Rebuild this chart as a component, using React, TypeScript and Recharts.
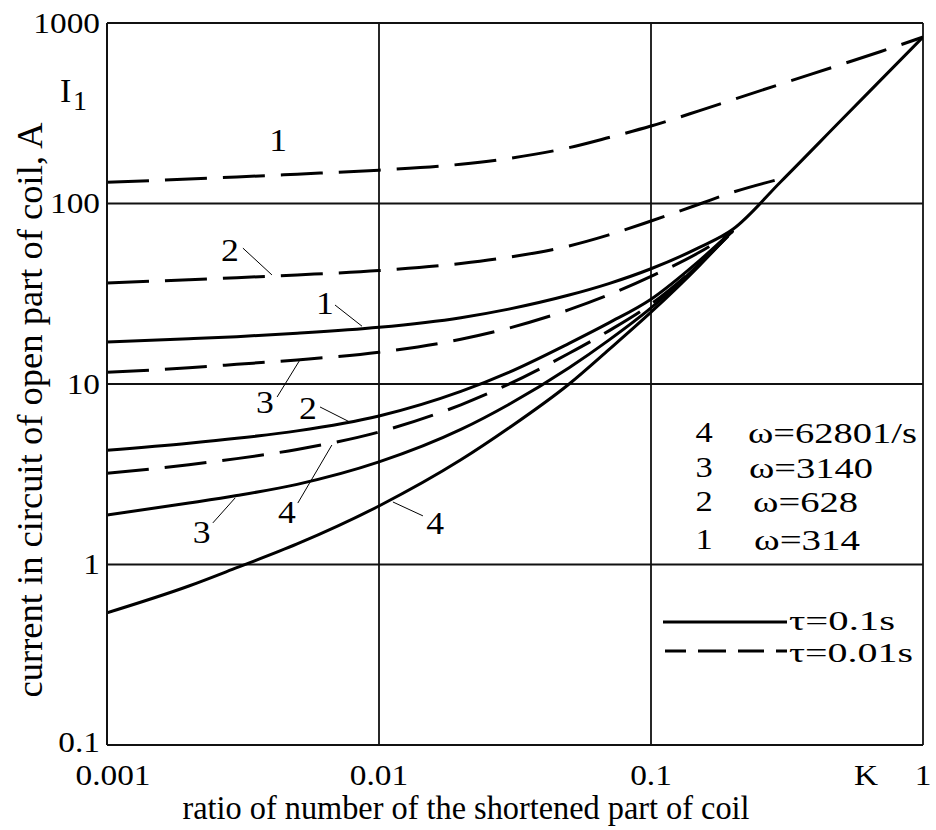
import React from 'react';
import { LineChart, Line, XAxis, YAxis, CartesianGrid, ReferenceLine, ReferenceDot } from 'recharts';

const FONT = "'Liberation Serif', 'Times New Roman', serif";

// K - ratio of number of the shortened part of coil
const kRatio = [0.001, 0.002, 0.003, 0.005, 0.01, 0.02, 0.03, 0.05, 0.07, 0.1, 0.15, 0.2, 0.3, 0.5, 0.7, 1];

// I1, A  (tau = 0.1 s, solid)
const tau01w314 = [17.1, 17.8, 18.3, 19.1, 20.6, 23.3, 26, 31.1, 36, 43.5, 56.9, 72, 132, 289, 484, 836];
const tau01w628 = [4.3, 4.7, 5.0, 5.5, 6.65, 9.1, 11.6, 16.8, 21.8, 29.5, 48, 71];
const tau01w3140 = [1.88, 2.19, 2.41, 2.78, 3.7, 5.6, 7.7, 12.3, 17.5, 26.4, 46, 71];
const tau01w6280 = [0.54, 0.76, 0.96, 1.3, 2.11, 3.8, 5.7, 10, 15.5, 25, 45, 71];

// I1, A  (tau = 0.01 s, dashed)
const tau001w314 = [131, 136.6, 140.3, 145.4, 153, 165, 177.7, 204, 232, 268.6, 326, 376, 459, 589, 695, 836];
const tau001w628 = [36.3, 37.8, 38.8, 40.2, 42.5, 46.5, 50.4, 58.2, 67, 80, 99, 115.5, 137];
const tau001w3140 = [11.6, 12.3, 12.85, 13.6, 15, 17.7, 20.4, 25.8, 31.2, 39.5, 53.5, 70];
const tau001w6280 = [3.2, 3.57, 3.86, 4.34, 5.42, 7.67, 9.98, 14.8, 19.7, 27.7, 46, 70];

const xTicks = [0.001, 0.01, 0.1, 1];
const yTicks = [0.1, 1, 10, 100, 1000];

const omegaNums = ['4', '3', '2', '1'];
const omegaTexts = ['ω=62801/s', 'ω=3140', 'ω=628', 'ω=314'];

// curve numbers, placed in (K, I1) coordinates
const curveLabels = [
  { text: '1', k: 0.00426, i: 225 },
  { text: '2', k: 0.00283, i: 55.3 },
  { text: '1', k: 0.00632, i: 28.1 },
  { text: '3', k: 0.00381, i: 7.95 },
  { text: '2', k: 0.00548, i: 7.36 },
  { text: '4', k: 0.00459, i: 1.95 },
  { text: '3', k: 0.00223, i: 1.51 },
  { text: '4', k: 0.0161, i: 1.7 },
];
const leaders = [
  [[0.00316, 56.6], [0.00404, 40.2]],
  [[0.00689, 27.4], [0.00866, 20.9]],
  [[0.00422, 8.47], [0.00512, 13.6]],
  [[0.00607, 7.46], [0.00782, 6.15]],
  [[0.00503, 2.19], [0.00671, 4.59]],
  [[0.00245, 1.7], [0.00296, 2.34]],
  [[0.0145, 1.86], [0.01125, 2.22]],
];

const rows = kRatio.map((k, i) => ({
  k,
  s1: tau01w314[i] ?? null,
  s2: tau01w628[i] ?? null,
  s3: tau01w3140[i] ?? null,
  s4: tau01w6280[i] ?? null,
  d1: tau001w314[i] ?? null,
  d2: tau001w628[i] ?? null,
  d3: tau001w3140[i] ?? null,
  d4: tau001w6280[i] ?? null,
}));

const Txt = ({ x, y, children, size = 29, anchor = 'middle', sx = 1.15, baseline = 'central', len }: any) => (
  <g transform={`translate(${x},${y}) scale(${sx},1)`}>
    <text
      x={0}
      y={0}
      fontSize={size}
      fontFamily={FONT}
      textAnchor={anchor}
      dominantBaseline={baseline}
      fill="#000"
      textLength={len}
      lengthAdjust={len ? 'spacingAndGlyphs' : undefined}
    >
      {children}
    </text>
  </g>
);

const YTick = (p: any) => (
  <Txt x={p.x} y={p.y - (p.payload.value === 0.1 ? 3 : 0)} anchor="end">{String(p.payload.value)}</Txt>
);

const XTick = (p: any) => (
  <Txt x={p.x + (p.payload.value === 0.001 ? 6 : 0)} y={p.y + 40} baseline="alphabetic">
    {String(p.payload.value)}
  </Txt>
);

const solidKeys = ['s1', 's2', 's3', 's4'];
const dashedKeys = ['d1', 'd2', 'd3', 'd4'];
const omegaY = [432, 467, 501, 539];

export default function App() {
  return (
    <div style={{ position: 'absolute', left: 0, top: 0, width: 936, height: 830, background: '#fff' }}>
      <LineChart width={936} height={830} data={rows} margin={{ top: 23, right: 13, left: 0, bottom: 0 }}>
        <CartesianGrid stroke="#111" strokeWidth={1.8} />
        <XAxis
          dataKey="k"
          type="number"
          scale="log"
          domain={[0.001, 1]}
          ticks={xTicks}
          height={85}
          tickLine={false}
          tickSize={0}
          tickMargin={0}
          axisLine={{ stroke: '#111', strokeWidth: 2 }}
          tick={<XTick />}
          allowDataOverflow
        />
        <YAxis
          type="number"
          scale="log"
          domain={[0.1, 1000]}
          ticks={yTicks}
          width={107}
          tickLine={false}
          tickSize={0}
          tickMargin={7}
          axisLine={{ stroke: '#111', strokeWidth: 2 }}
          tick={<YTick />}
          allowDataOverflow
        />
        {solidKeys.map((key) => (
          <Line
            key={key}
            dataKey={key}
            type="monotone"
            stroke="#000"
            strokeWidth={3}
            dot={false}
            isAnimationActive={false}
          />
        ))}
        {dashedKeys.map((key) => (
          <Line
            key={key}
            dataKey={key}
            type="monotone"
            stroke="#000"
            strokeWidth={3}
            strokeDasharray="42 16"
            dot={false}
            isAnimationActive={false}
          />
        ))}
        {leaders.map((seg, idx) => (
          <ReferenceLine
            key={`ld-${idx}`}
            segment={[{ x: seg[0][0], y: seg[0][1] }, { x: seg[1][0], y: seg[1][1] }]}
            stroke="#000"
            strokeWidth={1}
          />
        ))}
        {curveLabels.map((c, idx) => (
          <ReferenceDot
            key={`cl-${idx}`}
            x={c.k}
            y={c.i}
            r={0}
            shape={(p: any) => <Txt x={p.cx} y={p.cy} size={31}>{c.text}</Txt>}
          />
        ))}
      </LineChart>
      <svg width={936} height={830} style={{ position: 'absolute', left: 0, top: 0, pointerEvents: 'none' }}>
        {/* I1 */}
        <text x={60} y={102} fontSize={34} fontFamily={FONT}>I</text>
        <text x={73} y={110} fontSize={28} fontFamily={FONT}>1</text>
        {/* y title */}
        <g transform="translate(30,410) rotate(-90)">
          <text x={0} y={0} fontSize={35} fontFamily={FONT} textAnchor="middle" dominantBaseline="central" textLength={575} lengthAdjust="spacingAndGlyphs">
            current in circuit of open part of coil, A
          </text>
        </g>
        {/* x title */}
        <text x={466} y={819} fontSize={33} fontFamily={FONT} textAnchor="middle" textLength={567} lengthAdjust="spacingAndGlyphs">
          ratio of number of the shortened part of coil
        </text>
        <Txt x={866} y={785} baseline="alphabetic">K</Txt>
        {/* omega legend */}
        {omegaNums.map((n, i) => (
          <Txt key={`on-${i}`} x={704} y={omegaY[i]} size={30}>{n}</Txt>
        ))}
        {omegaTexts.map((t, i) => (
          <Txt key={`ot-${i}`} x={[748, 749, 753, 754][i]} y={omegaY[i]} size={30} anchor="start" sx={1} len={[169, 124, 105, 106][i]}>{t}</Txt>
        ))}
        {/* tau legend */}
        <line x1={663} y1={622} x2={787} y2={622} stroke="#000" strokeWidth={3} />
        <Txt x={789} y={621} size={27} anchor="start" sx={1} len={106}>τ=0.1s</Txt>
        <line x1={665} y1={651} x2={787} y2={651} stroke="#000" strokeWidth={3} strokeDasharray="21 12 28 12 26 12 13" />
        <Txt x={789} y={653} size={27} anchor="start" sx={1} len={124}>τ=0.01s</Txt>
      </svg>
    </div>
  );
}
